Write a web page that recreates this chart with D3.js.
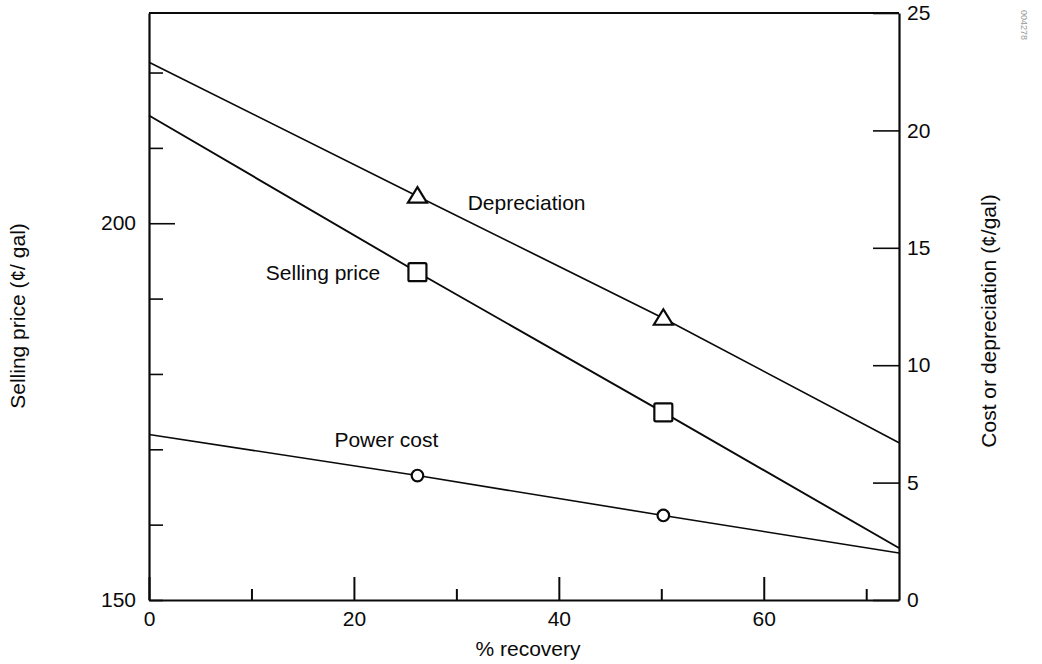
<!DOCTYPE html>
<html>
<head>
<meta charset="utf-8">
<script src="https://cdn.jsdelivr.net/npm/d3@7"></script>
<style>
    body { margin: 0; background: #fff; }
    svg text { font-family: "Liberation Sans", Arial, Helvetica, sans-serif; fill: #0a0a0a; }
    .axis path, .axis line { stroke: #0a0a0a; }
</style>
</head>
<body>
<div class="chart"></div>
<script>
// values
var recovery = [0, 26.2, 50.2, 73.2];
var depreciation = [22.9, 17.2, 12.0, 6.7];      // right axis
var sellingPrice = [214.3, 193.5, 174.9, 156.9]; // left axis
var powerCost = [7.05, 5.3, 3.6, 2.0];          // right axis
var marked = [false, true, true, false];

var xTicks = [0, 10, 20, 30, 40, 50, 60, 70];
var xLabels = [0, 20, 40, 60];
var leftTicks = [150, 160, 170, 180, 190, 200, 210, 220];
var leftLabels = [150, 200];
var rightTicks = [0, 5, 10, 15, 20, 25];

var dim = {
    width: 1042, height: 664,
    plot: { left: 149, right: 899, top: 13, bottom: 600 }
};

var x = d3.scaleLinear().domain([0, 73.2]).range([dim.plot.left, dim.plot.right]);
var yLeft = d3.scaleLinear().domain([150, 227.9]).range([dim.plot.bottom, dim.plot.top]);
var yRight = d3.scaleLinear().domain([0, 25]).range([dim.plot.bottom, dim.plot.top]);

var svg = d3.select(".chart").append("svg")
    .attr("width", dim.width)
    .attr("height", dim.height);

// top border of the frame
svg.append("line")
    .attr("x1", x(0)).attr("x2", x(73.2))
    .attr("y1", yRight(25)).attr("y2", yRight(25))
    .attr("stroke", "#0a0a0a")
    .attr("stroke-width", 2.2);

// x axis
var xAxis = d3.axisBottom(x)
    .tickValues(xTicks)
    .tickSizeInner(-11)
    .tickSizeOuter(0)
    .tickPadding(11)
    .tickFormat(function(d) { return xLabels.indexOf(d) >= 0 ? d : ""; });

var gx = svg.append("g")
    .attr("class", "x axis")
    .attr("transform", "translate(0," + dim.plot.bottom + ")")
    .call(xAxis);
gx.select(".domain").attr("stroke-width", 2.2);
gx.selectAll(".tick line")
    .attr("stroke-width", 2)
    .attr("y2", function(d) { return d % 20 === 0 ? -23 : -11; });
gx.selectAll(".tick text").style("font-size", "21px");

// left axis
var leftAxis = d3.axisLeft(yLeft)
    .tickValues(leftTicks)
    .tickSizeInner(-14)
    .tickSizeOuter(0)
    .tickPadding(13)
    .tickFormat(function(d) { return leftLabels.indexOf(d) >= 0 ? d : ""; });

var gl = svg.append("g")
    .attr("class", "left axis")
    .attr("transform", "translate(" + dim.plot.left + ",0)")
    .call(leftAxis);
gl.select(".domain").attr("stroke-width", 2.2);
gl.selectAll(".tick line")
    .attr("stroke-width", 1.6)
    .attr("x2", function(d) { return d === 200 ? 26 : 14; });
gl.selectAll(".tick text").style("font-size", "21px");

// right axis
var rightAxis = d3.axisRight(yRight)
    .tickValues(rightTicks)
    .tickSizeInner(-26)
    .tickSizeOuter(0)
    .tickPadding(8);

var gr = svg.append("g")
    .attr("class", "right axis")
    .attr("transform", "translate(" + dim.plot.right + ",0)")
    .call(rightAxis);
gr.select(".domain").attr("stroke-width", 2.2);
gr.selectAll(".tick line").attr("stroke-width", 1.6);
gr.selectAll(".tick text").style("font-size", "21px");

// series
var series = [
    { name: "Depreciation", values: depreciation, y: yRight, marker: "triangle", width: 1.7 },
    { name: "Selling price", values: sellingPrice, y: yLeft, marker: "square", width: 1.9 },
    { name: "Power cost", values: powerCost, y: yRight, marker: "circle", width: 1.6 }
];

series.forEach(function(s) {
    var pts = recovery.map(function(r, i) { return { x: r, v: s.values[i], m: marked[i] }; });

    var line = d3.line()
        .x(function(d) { return x(d.x); })
        .y(function(d) { return s.y(d.v); });

    svg.append("path")
        .datum(pts)
        .attr("d", line)
        .attr("fill", "none")
        .attr("stroke", "#0a0a0a")
        .attr("stroke-width", s.width);

    var marks = svg.append("g").selectAll("g")
        .data(pts.filter(function(d) { return d.m; }))
        .enter().append("g")
        .attr("transform", function(d) { return "translate(" + x(d.x) + "," + s.y(d.v) + ")"; });

    if (s.marker === "triangle") {
        marks.append("path")
            .attr("d", "M0,-9L9.5,6.5L-9.5,6.5Z")
            .attr("fill", "#fff").attr("stroke", "#0a0a0a").attr("stroke-width", 2.2);
    } else if (s.marker === "square") {
        marks.append("rect")
            .attr("x", -9).attr("y", -9).attr("width", 18).attr("height", 18)
            .attr("rx", 1.5)
            .attr("fill", "#fff").attr("stroke", "#0a0a0a").attr("stroke-width", 2.2);
    } else {
        marks.append("circle")
            .attr("r", 5.8)
            .attr("fill", "#fff").attr("stroke", "#0a0a0a").attr("stroke-width", 2.2);
    }
});

// series labels
var labels = [
    { text: "Depreciation", x: x(31.1), y: yRight(16.6) },
    { text: "Selling price", x: x(11.4), y: yLeft(192.5) },
    { text: "Power cost", x: x(18.1), y: yRight(6.5) }
];
svg.selectAll("text.series-label")
    .data(labels)
    .enter().append("text")
    .attr("class", "series-label")
    .attr("x", function(d) { return d.x; })
    .attr("y", function(d) { return d.y; })
    .style("font-size", "21px")
    .text(function(d) { return d.text; });

// axis titles
svg.append("text")
    .attr("x", 528).attr("y", 656)
    .style("text-anchor", "middle")
    .style("font-size", "21px")
    .text("% recovery");

svg.append("text")
    .attr("transform", "translate(25,316) rotate(-90)")
    .style("text-anchor", "middle")
    .style("font-size", "21px")
    .text("Selling price (¢/ gal)");

svg.append("text")
    .attr("transform", "translate(996,321) rotate(-90)")
    .style("text-anchor", "middle")
    .style("font-size", "21px")
    .text("Cost or depreciation (¢/gal)");

// scan stamp in the corner
svg.append("text")
    .attr("transform", "translate(1021,10) rotate(90)")
    .style("font-size", "9px")
    .style("fill", "#999")
    .text("004278");
</script>
</body>
</html>
